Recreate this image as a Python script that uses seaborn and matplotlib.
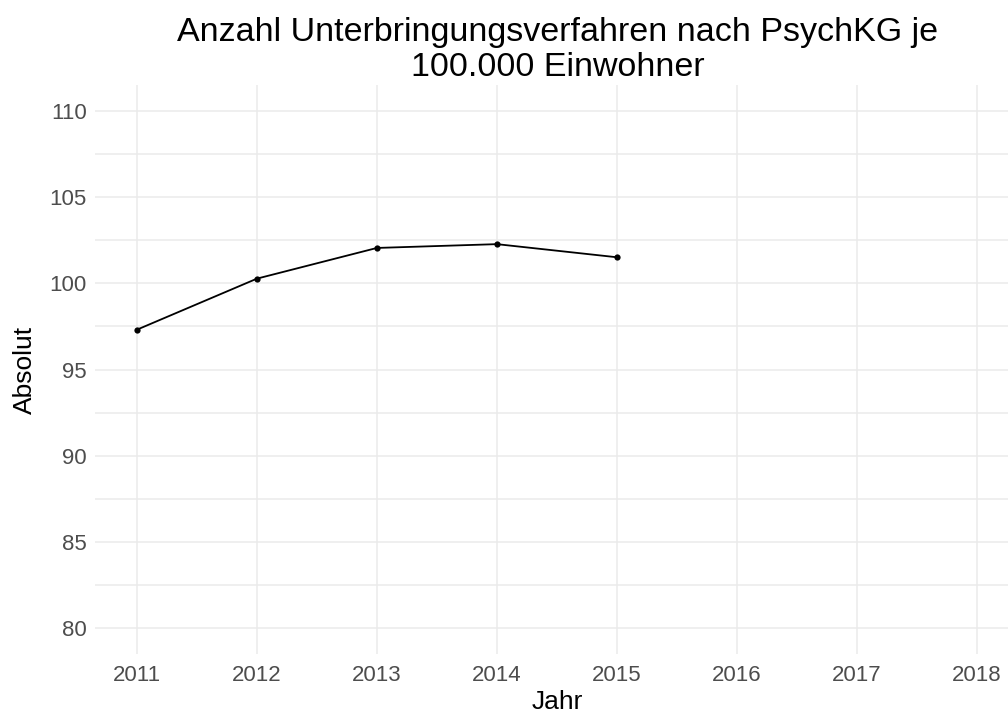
import pandas as pd
import numpy as np
import matplotlib
matplotlib.use("Agg")
import matplotlib.pyplot as plt
import seaborn as sns

jahre = [2011, 2012, 2013, 2014, 2015]
werte = [97.31, 100.27, 102.05, 102.27, 101.51]
x_ticks = [2011, 2012, 2013, 2014, 2015, 2016, 2017, 2018]
y_ticks = [80, 85, 90, 95, 100, 105, 110]

df = pd.DataFrame({"Jahr": jahre, "Absolut": werte})

sns.set_style("white")
plt.rcParams['font.family'] = ['Liberation Sans', 'DejaVu Sans']

fig = plt.figure(figsize=(10.08, 7.15), dpi=100)
ax = fig.add_axes([95 / 1008, 1 - 654 / 715, 923.7 / 1008, (654 - 85) / 715])

grid_col = "#ebebeb"
for y in np.arange(77.5, 112.5, 2.5):
    ax.axhline(y, color=grid_col, lw=1.1, zorder=0)
for x in x_ticks:
    ax.axvline(x, color=grid_col, lw=1.1, zorder=0)

sns.lineplot(data=df, x="Jahr", y="Absolut", color="black", lw=1.3,
             marker="o", markersize=4.5, markeredgewidth=0, ax=ax)

ax.set_xlim(2010.65, 2018.35)
ax.set_ylim(78.5, 111.5)
ax.set_xticks(x_ticks)
ax.set_yticks(y_ticks)
ax.set_xticklabels([str(v) for v in x_ticks])
ax.tick_params(axis="both", length=0, labelsize=16, colors="#4d4d4d")
ax.tick_params(axis="x", pad=8)
ax.tick_params(axis="y", pad=6)
for s in ax.spines.values():
    s.set_visible(False)

ax.set_xlabel("Jahr", fontsize=19, color="black", labelpad=3)
ax.set_ylabel("Absolut", fontsize=19, color="black", labelpad=9)
fig.text(0.553, 1 - 50 / 715, "Anzahl Unterbringungsverfahren nach PsychKG je\n100.000 Einwohner",
         ha="center", va="center", fontsize=24.5, linespacing=1.13, color="black")

fig.savefig("out.png", dpi=100)
